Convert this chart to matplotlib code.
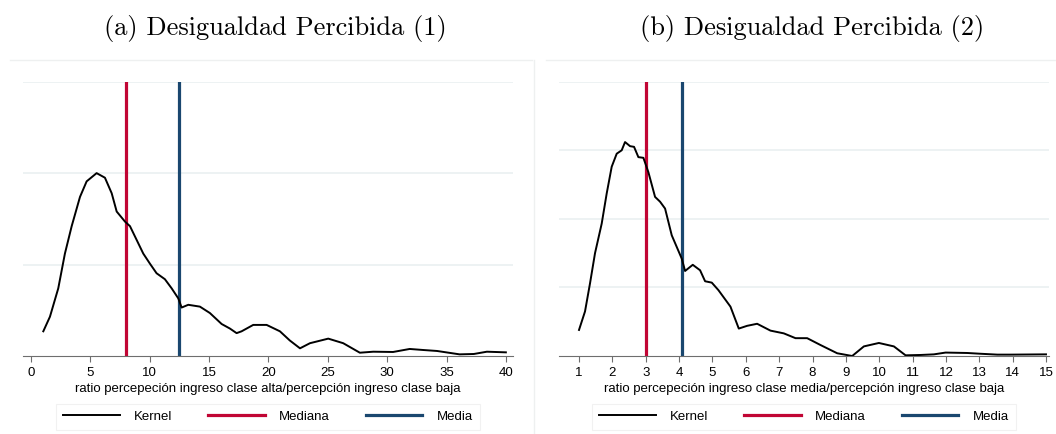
import matplotlib
matplotlib.use("Agg")
import matplotlib.pyplot as plt
from matplotlib.lines import Line2D

# panel (a): kernel density of ratio alta/baja
x_a = [1.04, 1.6, 2.3, 2.86, 3.43, 4.13, 4.69, 5.53, 6.23, 6.8, 7.22, 7.92, 8.34,
       8.9, 9.46, 10.02, 10.58, 11.28, 11.85, 12.41, 12.69, 13.25, 14.23, 15.07,
       16.06, 16.76, 17.32, 17.74, 18.72, 19.85, 20.97, 21.8, 22.66, 23.5, 25.04,
       26.3, 27.7, 28.83, 30.5, 31.9, 33.0, 34.2, 36.1, 37.3, 38.4, 40.0]
y_a = [0.27, 0.43, 0.74, 1.12, 1.42, 1.74, 1.91, 2.0, 1.95, 1.78, 1.58, 1.47, 1.42,
       1.27, 1.12, 1.01, 0.905, 0.84, 0.74, 0.63, 0.53, 0.56, 0.54, 0.47,
       0.35, 0.30, 0.25, 0.27, 0.34, 0.34, 0.27, 0.17, 0.084, 0.14, 0.19,
       0.14, 0.036, 0.047, 0.044, 0.077, 0.066, 0.055, 0.018, 0.022, 0.047, 0.04]
mediana_a = 7.97
media_a = 12.46

# panel (b): kernel density of ratio media/baja
x_b = [1.0, 1.18, 1.33, 1.48, 1.68, 1.83, 1.98, 2.13, 2.28, 2.38, 2.53, 2.65, 2.78,
       2.93, 3.08, 3.28, 3.43, 3.58, 3.78, 3.93, 4.08, 4.18, 4.41, 4.63, 4.78, 4.98,
       5.18, 5.54, 5.79, 6.04, 6.34, 6.74, 7.14, 7.49, 7.84, 8.24, 8.74, 9.19, 9.54,
       9.99, 10.44, 10.79, 11.24, 11.64, 11.99, 12.64, 12.99, 13.54, 13.95, 15.0]
y_b = [0.38, 0.65, 1.06, 1.50, 1.93, 2.37, 2.76, 2.95, 3.0, 3.12, 3.06, 3.05, 2.90,
       2.89, 2.68, 2.32, 2.25, 2.15, 1.76, 1.59, 1.42, 1.24, 1.33, 1.25, 1.09, 1.07,
       0.96, 0.72, 0.40, 0.44, 0.47, 0.37, 0.33, 0.26, 0.26, 0.16, 0.04, 0.0, 0.14,
       0.19, 0.14, 0.01, 0.015, 0.024, 0.05, 0.044, 0.034, 0.02, 0.02, 0.024]
mediana_b = 3.0
media_b = 4.09

ticks_a = list(range(0, 41, 5))
ticks_b = list(range(1, 16))
xlabel_a = "ratio percepeción ingreso clase alta/percepción ingreso clase baja"
xlabel_b = "ratio percepeción ingreso clase media/percepción ingreso clase baja"
titles = ["(a) Desigualdad Percibida (1)", "(b) Desigualdad Percibida (2)"]
leg_labels = ["Kernel", "Mediana", "Media"]

ROJO = "#c10534"
AZUL = "#1a476f"
GRID = "#eaf0f1"
W, H = 1056, 434
FS = 9.5

plt.rcParams['font.family'] = ['Liberation Sans', 'DejaVu Sans']
fig = plt.figure(figsize=(W / 100, H / 100), dpi=100)

# faint panel frames
for seg in [((10, 532), (60, 60)), ((546, 1056), (60, 60)), ((534, 534), (60, 434))]:
    fig.add_artist(Line2D([seg[0][0] / W, seg[0][1] / W], [1 - seg[1][0] / H, 1 - seg[1][1] / H],
                          color="#eef0f0", lw=1, transform=fig.transFigure))


def panel(rect, xs, ys, med, mean, ticks, xlim, ytop, xlabel, title, title_x):
    ax = fig.add_axes([rect[0] / W, 1 - rect[3] / H, (rect[1] - rect[0]) / W, (rect[3] - rect[2]) / H])
    ax.set_xlim(*xlim)
    ax.set_ylim(0, ytop)
    for g in range(1, int(ytop) + 1):
        ax.axhline(g, color=GRID, lw=1.2, zorder=0)
    k, = ax.plot(xs, ys, color="black", lw=1.4, zorder=3)
    m1 = ax.axvline(med, color=ROJO, lw=2.3, zorder=2)
    m2 = ax.axvline(mean, color=AZUL, lw=2.3, zorder=2)
    for s in ["top", "right", "left"]:
        ax.spines[s].set_visible(False)
    ax.spines["bottom"].set_color("#6e6e6e")
    ax.spines["bottom"].set_linewidth(0.8)
    ax.set_yticks([])
    ax.set_xticks(ticks)
    ax.tick_params(axis="x", colors="#6e6e6e", length=4.5, width=0.8, labelsize=FS,
                   labelcolor="black", pad=3.5)
    ax.set_xlabel(xlabel, fontsize=FS, labelpad=2.5)
    leg = ax.legend([k, m1, m2], leg_labels, loc="center", bbox_to_anchor=(0.5, -0.222),
                    ncol=3, fontsize=FS, handlelength=4.3, handletextpad=1.1,
                    columnspacing=2.7, frameon=True, fancybox=False, borderpad=0.5)
    leg.get_frame().set_edgecolor("#eeeeee")
    leg.get_frame().set_linewidth(0.8)
    fig.text(title_x / W, 1 - 28 / H, title, family="cmr10", fontsize=19,
             ha="center", va="center")
    return ax


panel((23, 513, 81.7, 356), x_a, y_a, mediana_a, media_a, ticks_a,
      (-0.67, 40.6), 3, xlabel_a, titles[0], 275)
panel((559, 1049, 81.7, 356), x_b, y_b, mediana_b, media_b, ticks_b,
      (0.4, 15.09), 4, xlabel_b, titles[1], 812)

fig.savefig("out.png", dpi=100, facecolor="white")
